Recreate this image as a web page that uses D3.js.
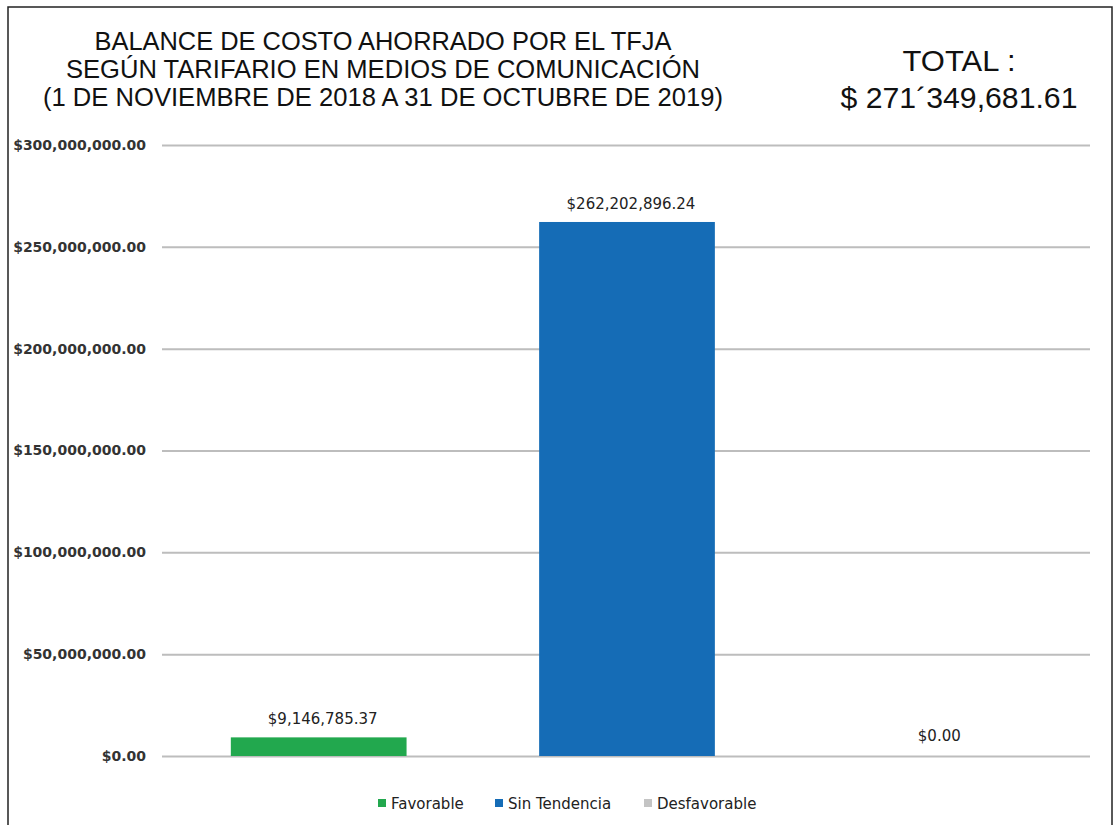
<!DOCTYPE html>
<html>
<head>
<meta charset="utf-8">
<script src="https://cdn.jsdelivr.net/npm/d3@7"></script>
<style>
  body { margin: 0; background: #fff; }
  svg { display: block; }
</style>
</head>
<body>
<svg id="chart" width="1115" height="825"></svg>
<script>
const categories = ["Favorable", "Sin Tendencia", "Desfavorable"];
const values = [9146785.37, 262202896.24, 0];
const colors = ["#22a84e", "#156cb6", "#c4c4c4"];
const yTicks = [0, 50000000, 100000000, 150000000, 200000000, 250000000, 300000000];
const titleLines = [
  "BALANCE DE COSTO AHORRADO POR EL TFJA",
  "SEGÚN TARIFARIO EN MEDIOS DE COMUNICACIÓN",
  "(1 DE NOVIEMBRE DE 2018 A 31 DE OCTUBRE DE 2019)"
];
const totalLines = ["TOTAL :", "$ 271´349,681.61"];

const svg = d3.select("#chart");
const W = 1115, H = 825;
const margin = { left: 162, right: 25, top: 145, bottom: 69 };

// frame
svg.append("rect").attr("x", 8).attr("y", 7).attr("width", 1104).attr("height", 830)
  .attr("fill", "none").attr("stroke", "#222").attr("stroke-width", 1.5);

const x = d3.scaleBand().domain(categories)
  .range([margin.left, W - margin.right]).paddingInner(0.43).paddingOuter(0.22);
const y = d3.scaleLinear().domain([0, 300000000]).range([H - margin.bottom, margin.top]);

const fmt = v => "$" + d3.format(",.2f")(v);

// gridlines + y axis
const yAxis = d3.axisLeft(y).tickValues(yTicks).tickFormat(fmt)
  .tickSize(-(W - margin.right - margin.left)).tickPadding(16);
const gy = svg.append("g").attr("transform", `translate(${margin.left},0)`).call(yAxis);
gy.select(".domain").remove();
gy.selectAll(".tick line").attr("stroke", "#bdbdbd").attr("stroke-width", 2);
gy.selectAll(".tick text")
  .attr("font-family", "'DejaVu Sans', sans-serif")
  .attr("font-size", 14).attr("font-weight", "bold").attr("fill", "#333");

// bars
svg.append("g").selectAll("rect").data(categories).join("rect")
  .attr("x", d => x(d) + 1)
  .attr("y", (d, i) => y(values[i]))
  .attr("width", x.bandwidth())
  .attr("height", (d, i) => y(0) - y(values[i]))
  .attr("fill", (d, i) => colors[i]);

// data labels
svg.append("g").selectAll("text").data(categories).join("text")
  .attr("x", d => x(d) + x.bandwidth() / 2 + 5)
  .attr("y", (d, i) => y(values[i]) - (values[i] === 0 ? 15 : 13))
  .attr("text-anchor", "middle")
  .attr("font-family", "'DejaVu Sans', sans-serif")
  .attr("font-size", 15).attr("fill", "#222")
  .text((d, i) => fmt(values[i]));

// title
svg.append("g").selectAll("text").data(titleLines).join("text")
  .attr("x", 383).attr("y", (d, i) => 50 + i * 28)
  .attr("text-anchor", "middle")
  .attr("font-family", "'Liberation Sans', Arial, sans-serif")
  .attr("font-size", 25).attr("fill", "#111")
  .attr("textLength", (d, i) => [577, 634, 680][i])
  .attr("lengthAdjust", "spacingAndGlyphs")
  .text(d => d);

// total
svg.append("g").selectAll("text").data(totalLines).join("text")
  .attr("x", 959).attr("y", (d, i) => 71 + i * 37)
  .attr("text-anchor", "middle")
  .attr("font-family", "'Liberation Sans', Arial, sans-serif")
  .attr("font-size", 29).attr("fill", "#111")
  .attr("textLength", (d, i) => [113, 237][i])
  .attr("lengthAdjust", "spacingAndGlyphs")
  .text(d => d);

// legend
const legendX = [378, 495, 644];
const lg = svg.append("g").selectAll("g").data(categories).join("g")
  .attr("transform", (d, i) => `translate(${legendX[i]},803)`);
lg.append("rect").attr("x", 0).attr("y", -4).attr("width", 8).attr("height", 8)
  .attr("fill", (d, i) => colors[i]);
lg.append("text").attr("x", 13).attr("y", 5.5)
  .attr("font-family", "'DejaVu Sans', sans-serif")
  .attr("font-size", 15).attr("fill", "#222")
  .text(d => d);
</script>
</body>
</html>
